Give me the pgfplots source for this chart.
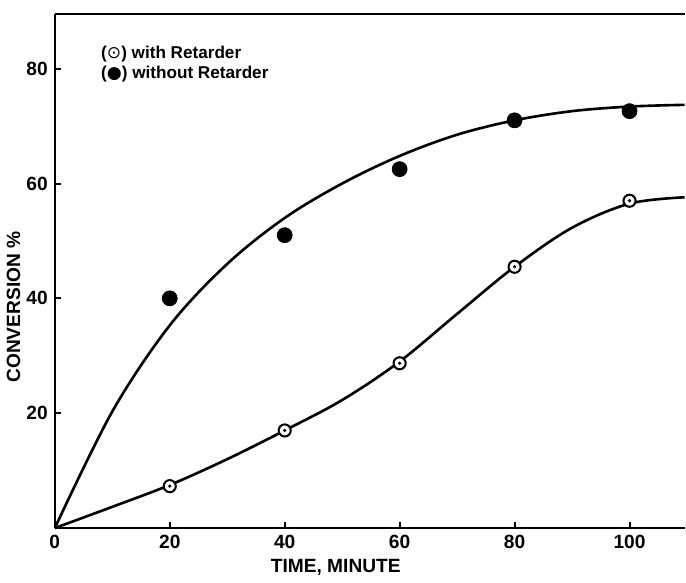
\documentclass[border=0pt]{standalone}
\usepackage{fontspec}
\setmainfont{Liberation Sans}
\newfontfamily\sym{DejaVu Sans}
\usepackage{pgfplots}
\pgfplotsset{compat=1.18}

\begin{document}
\begin{tikzpicture}
\begin{axis}[
  name=ax,
  scale only axis,
  width=312.5pt, height=255pt,
  xmin=0, xmax=109.6, ymin=0, ymax=89.5,
  axis x line=box, axis y line=left,
  axis line style={-, line width=1.3pt},
  xtick={0,20,40,60,80,100}, ytick={20,40,60,80},
  xtick pos=bottom, ytick pos=left,
  tick align=inside, major tick length=3pt,
  tick style={black, line width=1pt},
  /pgf/number format/assume math mode=true,
  tick label style={font=\bfseries\fontsize{9.5}{11}\selectfont},
  xlabel={TIME, MINUTE}, ylabel={CONVERSION \%},
  label style={font=\bfseries\fontsize{9.5}{11}\selectfont},
  xlabel style={at={(axis description cs:0.446,-0.0765)}, anchor=center},
  ylabel style={at={(axis description cs:-0.0656,0.43)}, anchor=center},
  clip=false,
]
% hand-drawn fitted curves
\addplot[black, line width=1.3pt, smooth, tension=0.55] coordinates {
  (0,0) (10,20.3) (20,35.3) (30,46) (40,54) (50,60)
  (60,64.8) (70,68.5) (80,71) (90,72.6) (100,73.4) (109.6,73.7)};
\addplot[black, line width=1.3pt, smooth, tension=0.55] coordinates {
  (0,0) (10,3.7) (20,7.5) (30,12) (40,17) (50,22.3) (60,29) (70,37.3)
  (80,45.5) (90,52.3) (100,56.5) (109.6,57.6)};
% without retarder
\addplot[only marks, mark=*, mark size=3.7pt, black] coordinates {
  (20,40) (40,51) (60,62.5) (80,71) (100,72.6)};
% with retarder
\addplot[only marks, mark=*, mark size=3pt, mark options={fill=white, draw=black, line width=1pt}] coordinates {
  (20,7.3) (40,17) (60,28.7) (80,45.5) (100,57)};
\addplot[only marks, mark=*, mark size=0.6pt, black] coordinates {
  (20,7.3) (40,17) (60,28.7) (80,45.5) (100,57)};
\node[anchor=north west, align=left, inner sep=0pt,
  font=\bfseries\fontsize{8.5}{10}\selectfont] at (axis cs:8,84)
  {({\sym\mdseries ⊙}) with Retarder\\({\sym\mdseries ●}) without Retarder};
\end{axis}
\path (ax.north east) ++(0,7pt);
\end{tikzpicture}
\end{document}
